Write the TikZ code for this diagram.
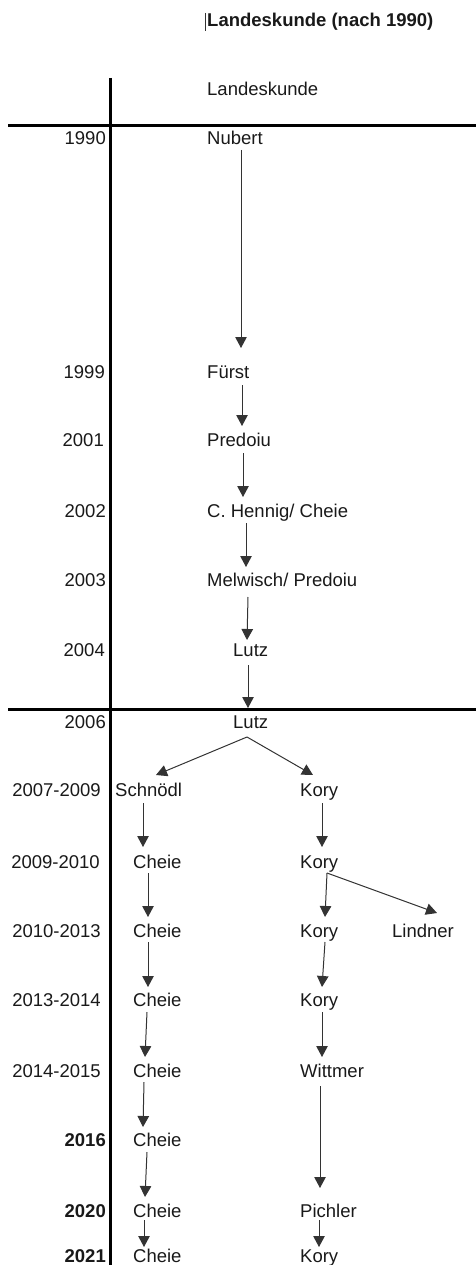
\documentclass[tikz,border=0pt]{standalone}
\usepackage{fontspec}
\setmainfont{Liberation Sans}
\usetikzlibrary{arrows.meta,calc}
\begin{document}
\begin{tikzpicture}[x=1pt,y=-1pt,
  txt/.style={inner sep=0pt,anchor=base west,font=\fontsize{18.5}{22}\selectfont,text=black!90},
  yr/.style={inner sep=0pt,anchor=base east,font=\fontsize{18.5}{22}\selectfont,text=black!90},
  yrb/.style={yr,font=\fontsize{18.5}{22}\selectfont\bfseries},
  axis/.style={line width=3pt,black},
  arr/.style={line width=1pt,black!80,-{Triangle[width=11.5pt,length=11pt]}}]
\useasboundingbox (0,0) rectangle (476,1265);
% frame lines
\coordinate (vtop) at (110,78);
\coordinate (vbot) at (110,1265);
\coordinate (h1l) at (8,126);
\coordinate (h1r) at (476,126);
\coordinate (h2l) at (8,709);
\coordinate (h2r) at (476,709);
\draw[axis] (vtop) -- (vbot);
\draw[axis] (h1l) -- (h1r);
\draw[axis] (h2l) -- (h2r);
% title
\node[txt,font=\fontsize{18.5}{22}\selectfont\bfseries] (title) at (207,27) {Landeskunde (nach 1990)};
\coordinate (bart) at (205.5,13);
\coordinate (barb) at (205.5,31);
\draw[line width=1.3pt,black!80] (bart) -- (barb);
\node[txt] (lk) at (207,96) {Landeskunde};
% years
\node[yr] (y1990) at (106,145) {1990};
\node[yr] (y1999) at (105,378) {1999};
\node[yr] (y2001) at (104,446) {2001};
\node[yr] (y2002) at (106,517) {2002};
\node[yr] (y2003) at (106,586) {2003};
\node[yr] (y2004) at (105,656) {2004};
\node[yr] (y2006) at (106,728) {2006};
\node[yr] (y0709) at (101,796) {2007-2009};
\node[yr] (y0910) at (100,868) {2009-2010};
\node[yr] (y1013) at (101,937) {2010-2013};
\node[yr] (y1314) at (101,1006) {2013-2014};
\node[yr] (y1415) at (101,1077) {2014-2015};
\node[yrb] (y2016) at (106,1146) {2016};
\node[yrb] (y2020) at (106,1217) {2020};
\node[yrb] (y2021) at (106,1262) {2021};
% names
\node[txt] (nubert) at (207,145) {Nubert};
\node[txt] (fuerst) at (207,378) {Fürst};
\node[txt] (predoiu) at (207,446) {Predoiu};
\node[txt] (hennig) at (207,517) {C. Hennig/ Cheie};
\node[txt] (melwisch) at (207,586) {Melwisch/ Predoiu};
\node[txt] (lutzA) at (233,656) {Lutz};
\node[txt] (lutzB) at (233,728) {Lutz};
\node[txt] (schnoedl) at (115,796) {Schnödl};
\node[txt] (koryA) at (300,796) {Kory};
\node[txt] (cheieA) at (133,868) {Cheie};
\node[txt] (koryB) at (300,868) {Kory};
\node[txt] (cheieB) at (133,937) {Cheie};
\node[txt] (koryC) at (300,937) {Kory};
\node[txt] (lindner) at (392,937) {Lindner};
\node[txt] (cheieC) at (133,1006) {Cheie};
\node[txt] (koryD) at (300,1006) {Kory};
\node[txt] (cheieD) at (133,1077) {Cheie};
\node[txt] (wittmer) at (300,1077) {Wittmer};
\node[txt] (cheieE) at (133,1146) {Cheie};
\node[txt] (cheieF) at (133,1217) {Cheie};
\node[txt] (pichler) at (300,1217) {Pichler};
\node[txt] (cheieG) at (133,1262) {Cheie};
\node[txt] (koryE) at (300,1262) {Kory};
% arrows
\draw[arr] ($(nubert.base west)+(34,5)$) -- ($(fuerst.base west)+(34,-30)$);
\draw[arr] ($(fuerst.base west)+(35,7)$) -- ($(predoiu.base west)+(35,-20)$);
\draw[arr] ($(predoiu.base west)+(36,7)$) -- ($(hennig.base west)+(36,-20)$);
\draw[arr] ($(hennig.base west)+(39,6)$) -- ($(melwisch.base west)+(39,-19)$);
\draw[arr] ($(melwisch.base west)+(41,11)$) -- ($(lutzA.base west)+(14,-16)$);
\draw[arr] ($(lutzA.base west)+(15,9)$) -- ($(lutzB.base west)+(15,-20)$);
\draw[arr] ($(lutzB.base west)+(14,9)$) -- ($(schnoedl.base west)+(41,-21)$);
\draw[arr] ($(lutzB.base west)+(14,9)$) -- ($(koryA.base west)+(13,-21)$);
\draw[arr] ($(schnoedl.base west)+(28,7)$) -- ($(cheieA.base west)+(10,-21)$);
\draw[arr] ($(koryA.base west)+(22,7)$) -- ($(koryB.base west)+(22,-21)$);
\draw[arr] ($(cheieA.base west)+(15,5)$) -- ($(cheieB.base west)+(15,-20)$);
\draw[arr] ($(koryB.base west)+(27,5)$) -- ($(koryC.base west)+(25,-20)$);
\draw[arr] ($(koryB.base west)+(27,5)$) -- ($(lindner.base west)+(45,-24)$);
\draw[arr] ($(cheieB.base west)+(15,5)$) -- ($(cheieC.base west)+(15,-19)$);
\draw[arr] ($(koryC.base west)+(25,5)$) -- ($(koryD.base west)+(22,-19)$);
\draw[arr] ($(cheieC.base west)+(14,6)$) -- ($(cheieD.base west)+(12,-20)$);
\draw[arr] ($(koryD.base west)+(22,6)$) -- ($(wittmer.base west)+(22,-20)$);
\draw[arr] ($(cheieD.base west)+(11,5)$) -- ($(cheieE.base west)+(10,-19)$);
\draw[arr] ($(wittmer.base west)+(20,9)$) -- ($(pichler.base west)+(20,-29)$);
\draw[arr] ($(cheieE.base west)+(14,6)$) -- ($(cheieF.base west)+(12,-20)$);
\draw[arr] ($(cheieF.base west)+(11,3)$) -- ($(cheieG.base west)+(11,-15)$);
\draw[arr] ($(pichler.base west)+(19,3)$) -- ($(koryE.base west)+(19,-15)$);
\end{tikzpicture}
\end{document}
